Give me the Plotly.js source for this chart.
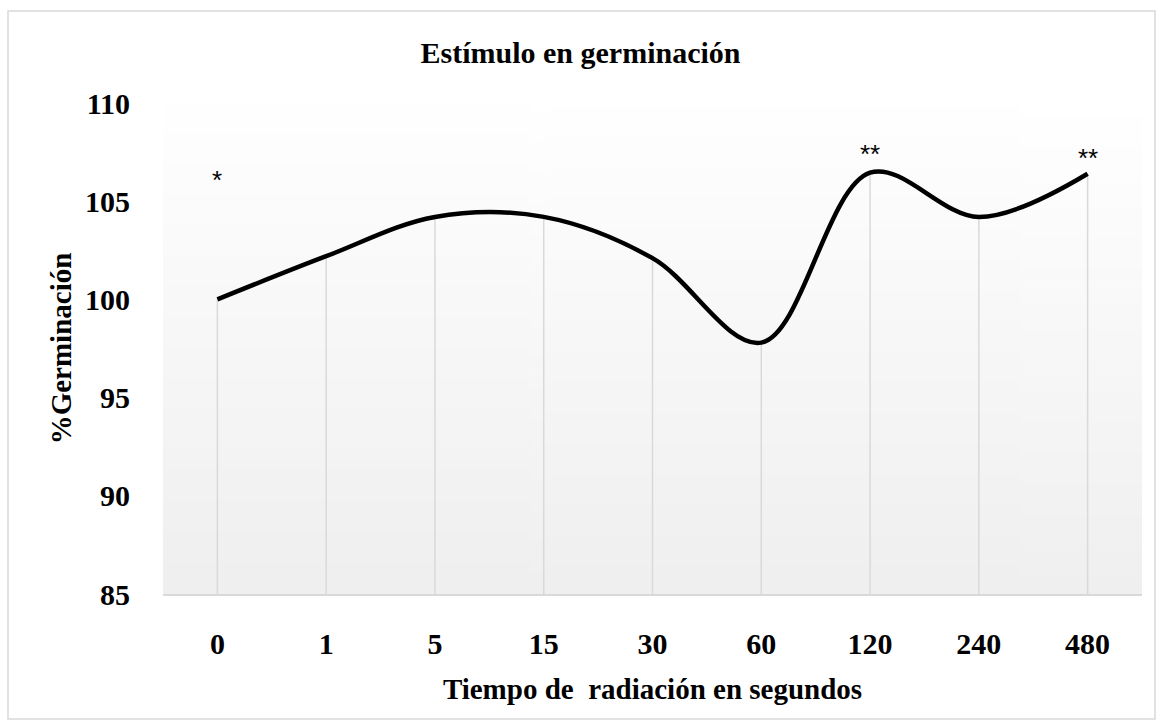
<!DOCTYPE html>
<html>
<head>
<meta charset="utf-8">
<script src="https://cdn.plot.ly/plotly-3.0.1.min.js"></script>
<style>html,body{margin:0;padding:0;background:#fff;}#chart{width:1161px;height:723px;}</style>
</head>
<body>
<div id="chart"></div>
<script>
// Data
const categories = ["0", "1", "5", "15", "30", "60", "120", "240", "480"];
const germinacion = [100.0, 102.2, 104.2, 104.2, 102.1, 97.8, 106.45, 104.2, 106.4];
const yTicks = [85, 90, 95, 100, 105, 110];
const starCats = ["0", "120", "480"];
const starLabels = ["*", "**", "**"];
const starY = [106.1, 107.4, 107.2];
const yMin = 85, yMax = 110;

// gradient background image for plot area
function gradientURI() {
  const c = document.createElement('canvas');
  c.width = 4; c.height = 256;
  const g = c.getContext('2d');
  const gr = g.createLinearGradient(0, 0, 0, 256);
  gr.addColorStop(0, '#ffffff');
  gr.addColorStop(1, '#efefef');
  g.fillStyle = gr; g.fillRect(0, 0, 4, 256);
  return c.toDataURL();
}

// drop lines from each point to axis
const dropX = [], dropY = [];
categories.forEach((c, i) => { dropX.push(c, c, null); dropY.push(germinacion[i], yMin, null); });

const serif = "Liberation Serif, Times New Roman, serif";

const traces = [
  {x: dropX, y: dropY, type: 'scatter', mode: 'lines', line: {color: '#d9d9d9', width: 1.5}, hoverinfo: 'skip', showlegend: false},
  {x: categories, y: germinacion, type: 'scatter', mode: 'lines', line: {color: '#000000', width: 4.5, shape: 'spline', smoothing: 1}, showlegend: false}
];

// category axis: annotation positions given as category index
const annotations = starCats.map((c, i) => ({
  x: categories.indexOf(c), y: starY[i], xref: 'x', yref: 'y', text: starLabels[i], showarrow: false,
  font: {family: 'Liberation Sans, Arial, sans-serif', size: 26, color: '#000'}
}));

const layout = {
  width: 1161, height: 723,
  margin: {l: 163, r: 19, t: 103, b: 129},
  paper_bgcolor: '#ffffff', plot_bgcolor: 'rgba(0,0,0,0)',
  title: {text: '<b>Estímulo en germinación</b>', font: {family: serif, size: 30, color: '#000'}, xref: 'container', x: 0.5, xanchor: 'center', yref: 'container', y: 0.928, yanchor: 'middle'},
  xaxis: {
    type: 'category', categoryorder: 'array', categoryarray: categories,
    range: [-0.5, categories.length - 0.5],
    showgrid: false, zeroline: false, showline: true, linecolor: '#d9d9d9', linewidth: 1.5,
    ticks: 'outside', ticklen: 22, tickcolor: 'rgba(0,0,0,0)',
    tickfont: {family: serif, size: 30, color: '#000', weight: 'bold'},
    title: {text: '<b>Tiempo de  radiación en segundos</b>', font: {family: serif, size: 29, color: '#000'}, standoff: 20}
  },
  yaxis: {
    range: [yMin, yMax], tickvals: yTicks, ticktext: yTicks.map(String),
    showgrid: false, zeroline: false, showline: false,
    ticks: 'outside', ticklen: 26, tickcolor: 'rgba(0,0,0,0)',
    tickfont: {family: serif, size: 30, color: '#000', weight: 'bold'},
    title: {text: '<b>%Germinación</b>', font: {family: serif, size: 29, color: '#000'}, standoff: 4}
  },
  images: [{source: gradientURI(), xref: 'paper', yref: 'paper', x: 0, y: 1, sizex: 1, sizey: 1, xanchor: 'left', yanchor: 'top', sizing: 'stretch', layer: 'below'}],
  shapes: [{type: 'rect', xref: 'paper', yref: 'paper', x0: (8 - 163) / 979, x1: (1155 - 163) / 979, y0: (594 - 719) / 491, y1: (594 - 11) / 491, line: {color: '#d9d9d9', width: 1.5}, fillcolor: 'rgba(0,0,0,0)', layer: 'below'}],
  annotations: annotations,
  showlegend: false
};

Plotly.newPlot('chart', traces, layout, {displayModeBar: false, staticPlot: true});
</script>
</body>
</html>
